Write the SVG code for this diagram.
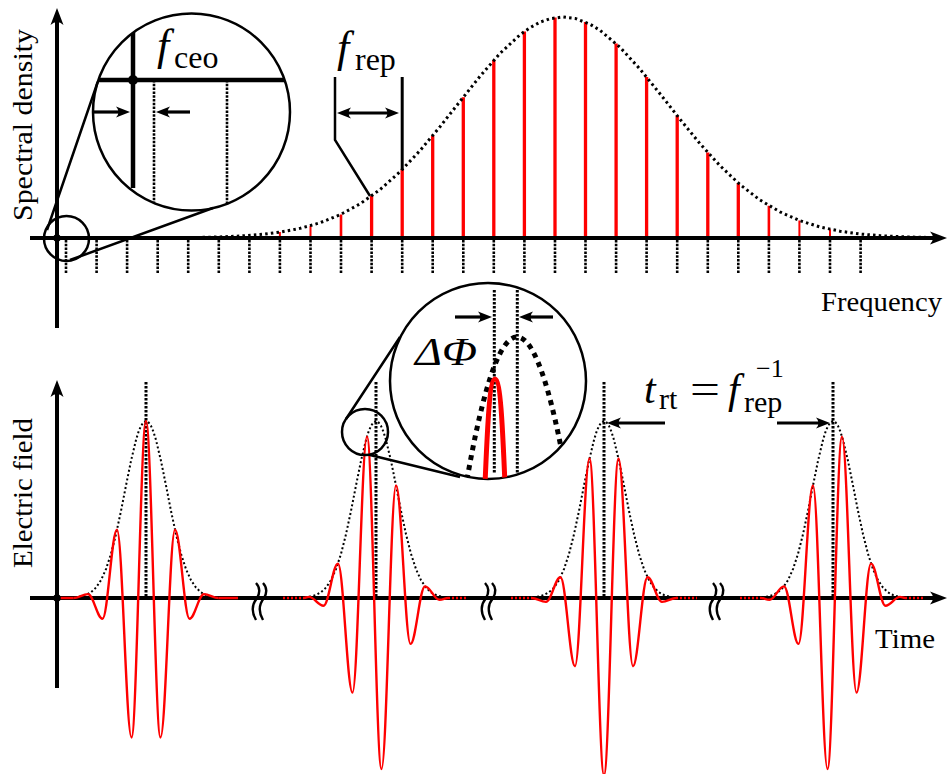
<svg xmlns="http://www.w3.org/2000/svg" width="948" height="774" viewBox="0 0 948 774">
<style>
.ax{fill:none;stroke:#000;stroke-width:4}
.lbl{font-family:"Liberation Serif","Times New Roman",serif;fill:#000}
.it{font-style:italic}
.envt{fill:none;stroke:#000;stroke-width:3;stroke-dasharray:2.5 3.2;stroke-linejoin:round}
.envb{fill:none;stroke:#000;stroke-width:2;stroke-dasharray:2 2.4;stroke-linejoin:round}
.comb{fill:none;stroke:#000;stroke-width:2.6;stroke-dasharray:2.5 1.3}
.ctr{fill:none;stroke:#000;stroke-width:3;stroke-dasharray:2.5 1.5}
.mode{fill:none;stroke:#f00}
.pulse{fill:none;stroke:#f00;stroke-width:2.4;stroke-linejoin:round}
.tail{fill:none;stroke:#f00;stroke-width:2.4;stroke-dasharray:2 2}
.ln{fill:none;stroke:#000;stroke-width:2.5}
.arr{fill:none;stroke:#000;stroke-width:3.2}
.brk{fill:none;stroke:#000;stroke-width:2.4}
</style>
<defs>
<marker id="ah" viewBox="-18 -8 19 16" refX="-7" refY="0" markerWidth="19" markerHeight="16" markerUnits="userSpaceOnUse" orient="auto"><path d="M0,0 L-17,-6.5 Q-11,0 -17,6.5 Z" fill="#000"/></marker>
<marker id="as" viewBox="-15 -7 16 14" refX="-6" refY="0" markerWidth="16" markerHeight="14" markerUnits="userSpaceOnUse" orient="auto-start-reverse"><path d="M0,0 L-14,-5.5 Q-9,0 -14,5.5 Z" fill="#000"/></marker>
<clipPath id="clipA"><circle cx="191.5" cy="112" r="98.5"/></clipPath>
<clipPath id="clipB"><circle cx="488" cy="381" r="98"/></clipPath>
<path id="c0" d="M-72.5,0 C-67.23,0 -63.27,-3.9 -58,-3.9 C-52.73,-3.9 -48.77,20.7 -43.5,20.7 C-38.23,20.7 -34.27,-68.2 -29,-68.2 C-23.73,-68.2 -19.77,139.5 -14.5,139.5 C-9.23,139.5 -5.27,-177 0,-177 C5.27,-177 9.23,139.5 14.5,139.5 C19.77,139.5 23.73,-68.2 29,-68.2 C34.27,-68.2 38.23,20.7 43.5,20.7 C48.77,20.7 52.73,-3.9 58,-3.9 C63.27,-3.9 67.23,0 72.5,0"/>
<path id="c2" d="M-72,0 C-70,0 -69,-1.1 -67,-1.1 C-61.73,-1.1 -57.77,7.8 -52.5,7.8 C-47.23,7.8 -43.27,-34.4 -38,-34.4 C-32.73,-34.4 -28.77,94.6 -23.5,94.6 C-18.23,94.6 -14.27,-161.4 -9,-161.4 C-3.73,-161.4 0.23,171 5.5,171 C10.77,171 14.73,-112.5 20,-112.5 C25.27,-112.5 29.23,45.9 34.5,45.9 C39.77,45.9 43.73,-11.6 49,-11.6 C54.27,-11.6 58.23,1.8 63.5,1.8 C67,1.8 69,0 72,0"/>
<path id="ev" d="M-80,-0.1 L-70,-0.7 L-65,-1.5 L-60,-3 L-55,-5.7 L-50,-10.4 L-45,-17.8 L-40,-28.9 L-35,-44.1 L-30,-63.8 L-25,-87.1 L-20,-112.5 L-15,-137.1 L-10,-158 L-7.5,-166.1 L-5,-172.1 L-2.5,-175.75 L0,-177 L2.5,-175.75 L5,-172.1 L7.5,-166.1 L10,-158 L15,-137.1 L20,-112.5 L25,-87.1 L30,-63.8 L35,-44.1 L40,-28.9 L45,-17.8 L50,-10.4 L55,-5.7 L60,-3 L65,-1.5 L70,-0.7 L80,-0.1"/>
<path id="brk" d="M-5,-15 Q1,-8.5 -4,0 Q-12,10 -5,22 M2,-15 Q8,-8.5 3,0 Q-5,10 2,22"/>
</defs>

<g id="spectrum-plot">
  <g id="comb-lines">
    <path class="comb" d="M66,240V274 M96.6,240V274 M127.1,240V274 M157.7,240V274 M188.2,240V274 M218.8,240V274 M249.4,240V274 M279.9,240V274 M310.5,240V274 M341,240V274 M371.6,240V274 M402.2,240V274 M432.7,240V274 M463.3,240V274 M493.8,240V274 M524.4,240V274 M555,240V274 M585.5,240V274 M616.1,240V274 M646.6,240V274 M677.2,240V274 M707.8,240V274 M738.3,240V274 M768.9,240V274 M799.4,240V274 M830,240V274 M860.6,240V274"/>
  </g>
  <g id="comb-modes">
    <path class="mode" stroke-width="2" d="M279.9,238V232.1 M310.5,238V225.7 M799.4,238V220.5 M830,238V229.3"/>
    <path class="mode" stroke-width="2.6" d="M341,238V214.4 M768.9,238V205.7"/>
    <path class="mode" stroke-width="3.3" d="M371.6,238V196 M402.2,238V169.6 M432.7,238V135.7 M463.3,238V97.2 M493.8,238V60.1 M524.4,238V31.4 M555,238V17.6 M585.5,238V22 M616.1,238V43.5 M646.6,238V77 M677.2,238V115.7 M707.8,238V152.6 M738.3,238V183.1"/>
  </g>
  <path id="spectral-envelope" class="envt" d="M100,238 L150,237.9 L200,237.4 L220,236.9 L240,236.05 L260,234.56 L280,232.15 L300,228.4 L320,222.8 L340,214.8 L360,203.9 L380,189.6 L400,171.8 L420,150.6 L440,126.7 L460,101.4 L480,76.3 L500,53.4 L520,34.8 L530,27.7 L540,22.2 L550,18.7 L563,17 L575,18.4 L590,24.2 L600,30.3 L620,47.3 L640,69.1 L660,93.8 L680,119.2 L700,143.7 L720,165.7 L740,184.6 L760,200 L780,211.9 L800,220.7 L820,226.95 L840,231.2 L860,234 L880,235.7 L900,236.7 L920,237.3 L940,237.65"/>
  <g id="spectrum-axes">
    <path class="ax" marker-end="url(#ah)" d="M30,238 H940"/>
    <path class="ax" marker-end="url(#ah)" d="M57,328 V15"/>
    <circle cx="57" cy="238" r="3.8" fill="#000"/>
  </g>
  <text class="lbl" font-size="28" text-anchor="middle" textLength="192" lengthAdjust="spacingAndGlyphs" transform="translate(32,125) rotate(-90)">Spectral density</text>
  <text class="lbl" font-size="28" x="821" y="311" textLength="121" lengthAdjust="spacingAndGlyphs">Frequency</text>
</g>

<g id="zoom-fceo">
  <circle cx="66.5" cy="238.5" r="22.5" class="ln"/>
  <path class="ln" d="M47,230 L97.7,82 M70,260 L213,208"/>
  <circle cx="191.5" cy="112" r="98.5" fill="#fff" class="ln"/>
  <g clip-path="url(#clipA)">
    <path d="M85,80 H300" stroke="#000" stroke-width="4.5" fill="none"/>
    <path d="M133,20 V188" stroke="#000" stroke-width="4.5" fill="none"/>
    <path class="comb" d="M154,80 V215 M227,80 V215"/>
  </g>
  <circle cx="133" cy="80" r="5" fill="#000"/>
  <path class="arr" marker-end="url(#as)" d="M93,112 H124"/>
  <path class="arr" marker-end="url(#as)" d="M190,112 H162"/>
  <text class="lbl it" font-size="44" x="157" y="60">f</text>
  <text class="lbl" font-size="32" x="174" y="68">ceo</text>
</g>

<g id="frep-marker">
  <path class="ln" d="M335,77 V140 L370,196"/>
  <path d="M402.2,77 V170" stroke="#000" stroke-width="3" fill="none"/>
  <path class="arr" marker-start="url(#as)" marker-end="url(#as)" d="M343,113 H393"/>
  <text class="lbl it" font-size="44" x="337" y="62">f</text>
  <text class="lbl" font-size="32" x="355" y="70">rep</text>
</g>

<g id="time-plot">
  <g id="time-axes">
    <path class="ax" marker-end="url(#ah)" d="M30,598 H940"/>
    <path class="ax" marker-end="url(#ah)" d="M57,688 V387"/>
  </g>
  <g id="envelopes">
    <use href="#ev" class="envb" transform="translate(146,598)"/>
    <use href="#ev" class="envb" transform="translate(376,598)"/>
    <use href="#ev" class="envb" transform="translate(604,598)"/>
    <use href="#ev" class="envb" transform="translate(833,598)"/>
  </g>
  <g id="pulse-centres">
    <path class="ctr" d="M146,382 V598 M376,382 V598 M604,382 V598 M833,382 V598"/>
  </g>
  <g id="pulse-1">
    <use href="#c0" class="pulse" transform="translate(146,598)"/>
    <path class="pulse" d="M57,598 H73.5 M218.5,598 H238"/>
  </g>
  <g id="pulse-2">
    <use href="#c2" class="pulse" transform="translate(376,598)"/>
    <path class="tail" d="M283,598 H304 M448,598 H468"/>
  </g>
  <g id="pulse-3">
    <use href="#c0" class="pulse" transform="translate(604,598) scale(1,-1)"/>
    <path class="tail" d="M511,598 H532 M676,598 H697"/>
  </g>
  <g id="pulse-4">
    <use href="#c2" class="pulse" transform="translate(833,598) scale(-1,1)"/>
    <path class="tail" d="M740,598 H761 M905,598 H925"/>
  </g>
  <circle cx="57" cy="598" r="3.8" fill="#000"/>
  <g id="axis-breaks">
    <use href="#brk" class="brk" transform="translate(261,598)"/>
    <use href="#brk" class="brk" transform="translate(490,598)"/>
    <use href="#brk" class="brk" transform="translate(718,598)"/>
  </g>
  <text class="lbl" font-size="28" text-anchor="middle" textLength="150" lengthAdjust="spacingAndGlyphs" transform="translate(32,493) rotate(-90)">Electric field</text>
  <text class="lbl" font-size="28" x="875" y="648" textLength="60" lengthAdjust="spacingAndGlyphs">Time</text>
</g>

<g id="zoom-dphi">
  <circle cx="365" cy="432" r="23" class="ln"/>
  <path class="ln" d="M346,419 L400,337 M370,455 L460,477"/>
  <circle cx="488" cy="381" r="98" fill="#fff" class="ln"/>
  <g clip-path="url(#clipB)">
    <path d="M462,509.4 Q517,164.6 572,509.4" fill="none" stroke="#000" stroke-width="5" stroke-dasharray="5 5"/>
    <path class="ctr" d="M494.3,290 V473 M517.3,290 V473"/>
    <path d="M485,484 C487,440 489,379 495,379 C501,379 503,440 505,484" fill="none" stroke="#f00" stroke-width="5"/>
  </g>
  <path class="arr" marker-end="url(#as)" d="M455,317 H486"/>
  <path class="arr" marker-end="url(#as)" d="M553,317 H525"/>
  <text class="lbl it" font-size="40" x="415" y="365" textLength="62" lengthAdjust="spacingAndGlyphs">ΔΦ</text>
</g>

<g id="trt-label">
  <path class="arr" stroke-width="3.5" marker-end="url(#as)" d="M665,423 H613"/>
  <path class="arr" stroke-width="3.5" marker-end="url(#as)" d="M777,423 H824"/>
  <text class="lbl it" font-size="42" x="644" y="403">t</text>
  <text class="lbl" font-size="30" x="659" y="409">rt</text>
  <text class="lbl" font-size="42" x="690" y="403" textLength="30" lengthAdjust="spacingAndGlyphs">=</text>
  <text class="lbl it" font-size="42" x="728" y="403">f</text>
  <text class="lbl" font-size="30" x="744" y="412">rep</text>
  <text class="lbl" font-size="26" x="756" y="377">−1</text>
</g>
</svg>
